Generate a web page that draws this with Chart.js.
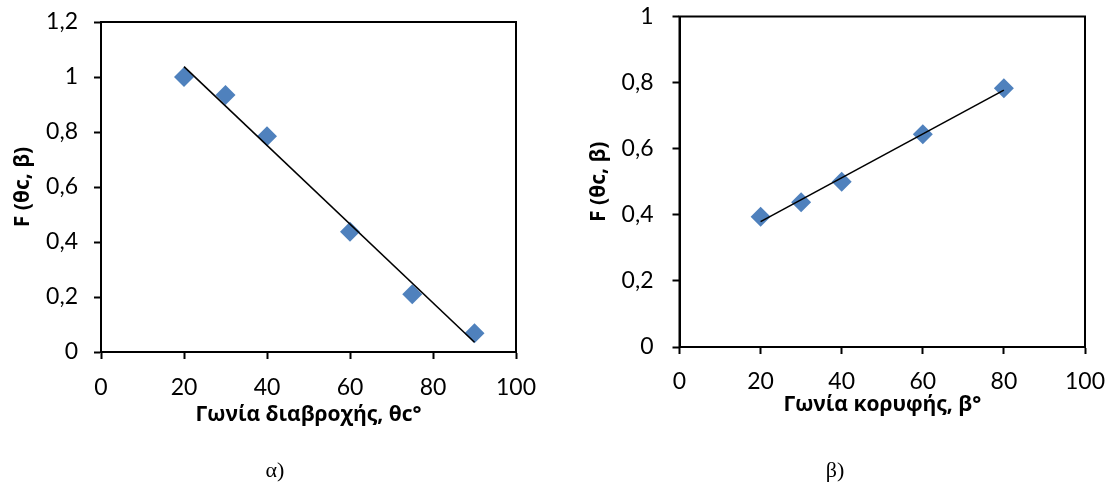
<!DOCTYPE html>
<html>
<head>
<meta charset="utf-8">
<script src="https://cdn.jsdelivr.net/npm/chart.js@4"></script>
<style>
  body { margin: 0; background: #fff; }
  #wrap { position: relative; width: 1113px; height: 486px; overflow: hidden; }
  canvas { position: absolute; top: 0; }
  .cap { position: absolute; font-family: "Liberation Serif", serif; font-size: 22px; color: #000; transform: translate(-50%, -50%); }
</style>
</head>
<body>
<div id="wrap">
  <canvas id="chartA" width="556" height="486" style="left:0"></canvas>
  <canvas id="chartB" width="553" height="486" style="left:560px"></canvas>
  <div class="cap" style="left:275px;top:470px">α)</div>
  <div class="cap" style="left:835px;top:470px">β)</div>
</div>
<script>
// α) γωνία διαβροχής
const wetAngle = [20, 30, 40, 60, 75, 90];
const wetF = [1.0, 0.935, 0.785, 0.437, 0.21, 0.068];
// β) γωνία κορυφής
const apexAngle = [20, 30, 40, 60, 80];
const apexF = [0.394, 0.438, 0.5, 0.644, 0.783];

const xTicks = ['0', '20', '40', '60', '80', '100'];
const yTicksA = ['0', '0,2', '0,4', '0,6', '0,8', '1', '1,2'];
const yTicksB = ['0', '0,2', '0,4', '0,6', '0,8', '1'];

const tickFont = { family: 'Lato, "Open Sans", sans-serif', size: 23 };
const titleFont = { family: '"Open Sans", sans-serif', size: 21, weight: 'bold' };

// linear trend line (least squares) over the data range, like excel does
function trend(xs, ys) {
  const n = xs.length;
  const mx = xs.reduce((a, b) => a + b, 0) / n;
  const my = ys.reduce((a, b) => a + b, 0) / n;
  let sxy = 0, sxx = 0;
  for (let i = 0; i < n; i++) {
    sxy += (xs[i] - mx) * (ys[i] - my);
    sxx += (xs[i] - mx) * (xs[i] - mx);
  }
  const b = sxy / sxx, a = my - b * mx;
  const x0 = Math.min(...xs), x1 = Math.max(...xs);
  return [{ x: x0, y: a + b * x0 }, { x: x1, y: a + b * x1 }];
}

// box round the plot area
const frame = {
  id: 'frame',
  beforeDatasetsDraw(chart) {
    const { ctx, chartArea: a } = chart;
    ctx.save();
    ctx.strokeStyle = '#000';
    ctx.lineWidth = 2;
    ctx.strokeRect(a.left, a.top, a.right - a.left, a.bottom - a.top);
    ctx.restore();
  }
};

function makeChart(id, o) {
  const pts = o.xs.map((x, i) => ({ x: x, y: o.ys[i] }));
  return new Chart(document.getElementById(id), {
    type: 'scatter',
    data: {
      datasets: [
        {
          data: trend(o.xs, o.ys),
          showLine: true,
          borderColor: '#000',
          borderWidth: 1.6,
          pointRadius: 0,
          order: 0
        },
        {
          data: pts,
          pointStyle: 'rectRot',
          pointRadius: 10,
          backgroundColor: '#4F81BD',
          borderColor: '#4F81BD',
          borderWidth: 0,
          order: 1
        }
      ]
    },
    options: {
      responsive: false,
      animation: false,
      layout: { padding: o.pad },
      plugins: { legend: { display: false }, tooltip: { enabled: false } },
      scales: {
        x: {
          type: 'linear', min: 0, max: 100,
          ticks: { stepSize: 20, padding: o.xPad, font: tickFont, color: '#000', callback: (v, i) => xTicks[i] },
          grid: { drawOnChartArea: false, drawTicks: true, tickLength: 7, tickWidth: 2, tickColor: '#000' },
          border: { color: '#000', width: 2 },
          title: { display: true, text: o.xTitle, font: titleFont, color: '#000', padding: { top: 0, bottom: 0 } },
          afterFit(s) { s.height = o.xH; s.paddingLeft = 0; s.paddingRight = 0; }
        },
        y: {
          type: 'linear', min: 0, max: o.yMax,
          ticks: { stepSize: 0.2, padding: o.yPad, font: tickFont, color: '#000', callback: (v, i) => o.yLabels[i] },
          grid: { drawOnChartArea: false, drawTicks: true, tickLength: 7, tickWidth: 2, tickColor: '#000' },
          border: { color: '#000', width: 2 },
          title: { display: true, text: 'F (θc, β)', font: titleFont, color: '#000', padding: { top: 10, bottom: 0 } },
          afterFit(s) { s.width = o.yW; s.paddingTop = 0; s.paddingBottom = 0; }
        }
      }
    },
    plugins: [frame]
  });
}

makeChart('chartA', {
  xs: wetAngle, ys: wetF, yMax: 1.2, yLabels: yTicksA,
  xTitle: 'Γωνία διαβροχής, θc°',
  pad: { left: 0, top: 22, right: 40, bottom: 58 },
  yW: 101, xH: 76, yPad: 16, xPad: 15
});

makeChart('chartB', {
  xs: apexAngle, ys: apexF, yMax: 1, yLabels: yTicksB,
  xTitle: 'Γωνία κορυφής, β°',
  pad: { left: 16, top: 16.5, right: 28, bottom: 68 },
  yW: 103.5, xH: 71, yPad: 19, xPad: 14
});
</script>
</body>
</html>
